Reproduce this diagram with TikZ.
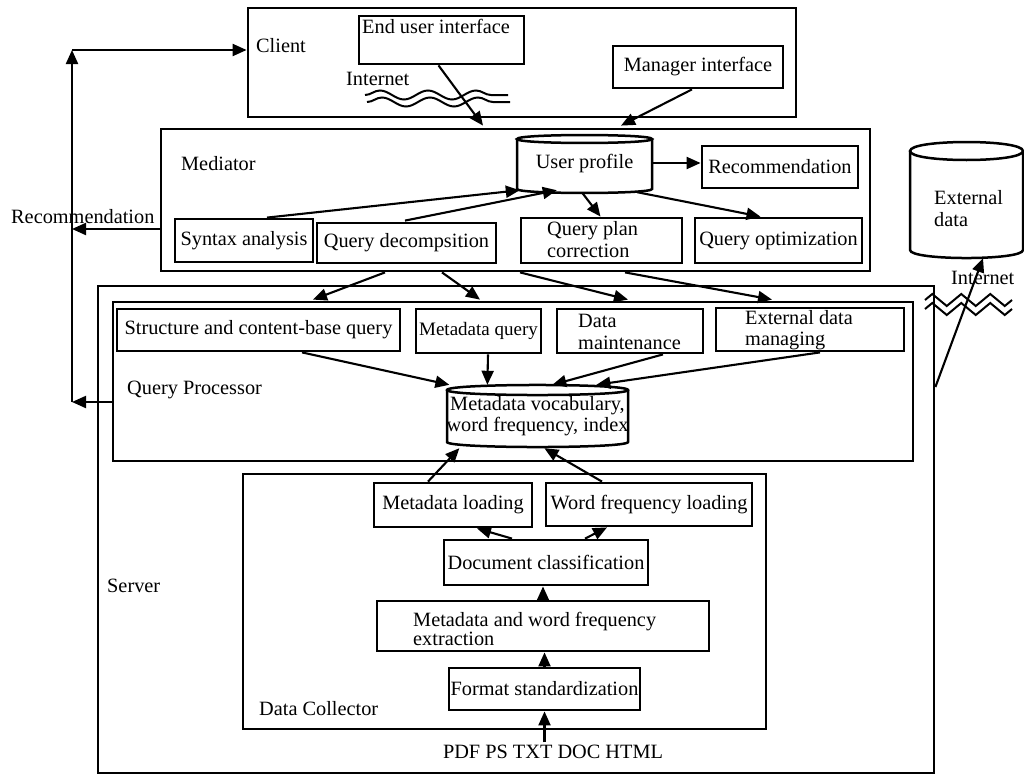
\documentclass[tikz,border=0pt]{standalone}
\usepackage{fontspec}
\setmainfont{Liberation Serif}
\usetikzlibrary{calc,arrows.meta,decorations.pathmorphing}
\begin{document}
\begin{tikzpicture}[x=1pt,y=-1pt,
  font=\fontsize{20.3}{22}\selectfont,
  frame/.style={draw, line width=2.8pt, inner sep=0pt, align=center},
  txt/.style={inner sep=0pt, align=left},
  arr/.style={line width=2.1pt, -{Triangle[length=14pt,width=12pt]}},
  ln/.style={line width=2pt},
  cylline/.style={line width=2.5pt},
  wave/.style={line width=2pt, decorate, decoration={snake, amplitude=4.5pt, segment length=48pt}},
  zz/.style={line width=2pt, decorate, decoration={zigzag, amplitude=6pt, segment length=29pt}}]
\useasboundingbox[fill=white] (0,0) rectangle (1024,776);

% containers
\node[frame, minimum width=548pt, minimum height=109pt] (client) at (522,62.5) {};
\node[frame, minimum width=709pt, minimum height=142pt] (mediator) at (515.5,200) {};
\node[frame, minimum width=836pt, minimum height=487pt] (server) at (516,529.5) {};
\node[frame, minimum width=800pt, minimum height=159pt] (qp) at (513,381.5) {};
\node[frame, minimum width=523pt, minimum height=255pt] (dc) at (504.5,601.5) {};

% container labels
\node[txt, anchor=base west] (clientl) at (256,52.5) {Client};
\node[txt, anchor=base west] (inetl) at (346,85) {Internet};
\node[txt, anchor=base west] (medl) at (181,170) {Mediator};
\node[txt, anchor=base west] (recl) at (11,223) {Recommendation};
\node[txt, anchor=base west] (qpl) at (127,394) {Query Processor};
\node[txt, anchor=base west] (serverl) at (107,592) {Server};
\node[txt, anchor=base west] (dcl_l) at (259,715) {Data Collector};
\node[txt, anchor=base] (pdf) at (553,758) {PDF PS TXT DOC HTML};
\node[txt, anchor=base west] (inet2) at (951,284) {Internet};

% client boxes
\node[frame, minimum width=165pt, minimum height=48pt] (eui) at (441.5,40) {};
\node[txt, anchor=base west] (euit) at (362,34) {End user interface};
\node[frame, minimum width=170pt, minimum height=42pt] (mgr) at (698,67) {Manager interface};

% mediator boxes
\node[inner sep=0pt, minimum width=135pt, minimum height=58pt] (up) at (584.5,164) {User profile};
\node[frame, minimum width=156pt, minimum height=42pt] (rec) at (780,167) {Recommendation};
\node[frame, minimum width=138pt, minimum height=43pt] (syn) at (244,240.5) {Syntax analysis};
\node[frame, minimum width=179pt, minimum height=40pt] (qd) at (406.5,243) {Query decompsition};
\node[frame, minimum width=161pt, minimum height=45pt] (qpc) at (601.5,240.5) {};
\node[txt, anchor=west] (qpct) at (547,239.5) {Query plan\\correction};
\node[frame, minimum width=167pt, minimum height=45pt] (qo) at (778.5,240.5) {Query optimization};

% query processor boxes
\node[frame, minimum width=283pt, minimum height=42pt] (scq) at (258.5,330) {Structure and content-base query};
\node[frame, minimum width=125pt, minimum height=44pt, font=\fontsize{19}{21}\selectfont] (mq) at (478.5,331) {Metadata query};
\node[frame, minimum width=146pt, minimum height=44pt] (dm) at (630,331) {};
\node[txt, anchor=west] (dmt) at (578,331.5) {Data\\maintenance};
\node[frame, minimum width=188pt, minimum height=43pt] (edm) at (810,329.5) {};
\node[txt, anchor=west, font=\fontsize{20.3}{20.5}\selectfont] (edmt) at (745,330) {External data\\managing};
\node[inner sep=0pt, minimum width=181pt, minimum height=62pt, align=center, font=\fontsize{20.3}{21}\selectfont] (meta) at (537.5,416) {Metadata vocabulary,\\word frequency, index};

% data collector boxes
\node[frame, minimum width=158pt, minimum height=44pt] (ml) at (453,505) {Metadata loading};
\node[frame, minimum width=206pt, minimum height=43pt] (wfl) at (649,504.5) {Word frequency loading};
\node[frame, minimum width=204pt, minimum height=45pt] (dcl) at (546,562.5) {Document classification};
\node[frame, minimum width=332pt, minimum height=50pt] (mwe) at (543,626) {};
\node[txt, anchor=west, font=\fontsize{20.3}{17}\selectfont] (mwet) at (413,629) {Metadata and word frequency\\extraction};
\node[frame, minimum width=191pt, minimum height=42pt] (fs) at (544.5,689) {Format standardization};

% external data
\node[inner sep=0pt, minimum width=113pt, minimum height=116pt] (ext) at (966.5,200) {};
\node[txt, anchor=west] (extt) at (934,209) {External\\data};

% cylinders
\draw[cylline] (517,139) .. controls (517,133.7) and (652,133.7) .. (652,139)
  .. controls (652,144.3) and (517,144.3) .. (517,139) -- cycle;
\draw[cylline] (517,139) -- (517,189) .. controls (517,194.3) and (652,194.3) .. (652,189) -- (652,139);
\draw[cylline] (447,390) .. controls (447,383.3) and (628,383.3) .. (628,390)
  .. controls (628,396.7) and (447,396.7) .. (447,390) -- cycle;
\draw[cylline] (447,390) -- (447,442) .. controls (447,448.7) and (628,448.7) .. (628,442) -- (628,390);
\draw[cylline] (910,151) .. controls (910,139) and (1023,139) .. (1023,151)
  .. controls (1023,163) and (910,163) .. (910,151) -- cycle;
\draw[cylline] (910,151) -- (910,250) .. controls (910,260.7) and (1023,260.7) .. (1023,250) -- (1023,151);

% wavy internet lines
\draw[wave] (365,95) -- (508,95);
\draw[wave] (367,102) -- (510,102);
\draw[zz] (925,300) -- (1012,300);
\draw[zz] (925,309) -- (1012,309);

% connectors: client -> mediator
\draw[arr] ($(eui.south)+(-3,0)$) -- ($(mediator.north)+(-32.5,-2)$);
\draw[arr] ($(mgr.south)+(-6,0)$) -- ($(mediator.north)+(105.5,-2)$);

% mediator internal
\draw[arr] ($(up.east)+(0,-1)$) -- ($(up.east -| rec.west)+(0,-1)$);
\draw[arr] ($(syn.north)+(23,0)$) -- ($(up.south west)+(3,-3)$);
\draw[arr] ($(qd.north)+(-1.5,-1)$) -- ($(up.south west)+(40,-3)$);
\draw[arr] ($(up.south)+(-2,0)$) -- ($(qpc.north)+(-1,0)$);
\draw[arr] ($(up.south east)+(-15,-1)$) -- ($(qo.north)+(-18,0)$);

% left feedback loop
\coordinate (ltop) at (72,50);
\coordinate (recout) at ($(mediator.west)+(0,29)$);
\coordinate (qpout) at ($(qp.west)+(0,20.5)$);
\draw[arr] (recout) -- (recout -| ltop);
\draw[arr] (qpout) -- (qpout -| ltop);
\draw[arr] (qpout -| ltop) -- (ltop);
\draw[arr] (ltop) -- (ltop -| client.west);

% mediator -> query processor
\draw[arr] ($(mediator.south)+(-130.5,0)$) -- ($(qp.north)+(-200,-1)$);
\draw[arr] ($(mediator.south)+(-73.5,0)$) -- ($(qp.north)+(-33,-1)$);
\draw[arr] ($(mediator.south)+(4.5,0)$) -- ($(qp.north)+(115,-1)$);
\draw[arr] ($(mediator.south)+(109.5,0)$) -- ($(qp.north)+(259,-1)$);

% query processor internal
\draw[arr] ($(scq.south)+(43.5,0)$) -- ($(meta.north west)+(3,0)$);
\draw[arr] ($(mq.south)+(9.5,0)$) -- ($(meta.north west)+(41,0)$);
\draw[arr] ($(dm.south)+(33,0)$) -- ($(meta.north west)+(106,0)$);
\draw[arr] ($(edm.south)+(10,0)$) -- ($(meta.north west)+(150,0)$);

% data collector
\draw[arr] ($(ml.north)+(-25,0)$) -- ($(meta.south west)+(13,1)$);
\draw[arr] ($(wfl.north)+(-47,0)$) -- ($(meta.south west)+(98,1)$);
\draw[arr] ($(dcl.north)+(-34,0)$) -- ($(ml.south)+(24,0)$);
\draw[arr] ($(dcl.north)+(39,0)$) -- ($(wfl.south)+(-42,0)$);
\draw[arr] (mwe.north) -- (mwe.north |- dcl.south);
\draw[arr] (fs.north) -- (fs.north |- mwe.south);
\draw[arr] ($(pdf.north -| fs.south)+(0,-2)$) -- (fs.south);

% server -> external data
\draw[arr] ($(server.east)+(0,-142.5)$) -- ($(ext.south)+(16.5,0)$);
\end{tikzpicture}
\end{document}
